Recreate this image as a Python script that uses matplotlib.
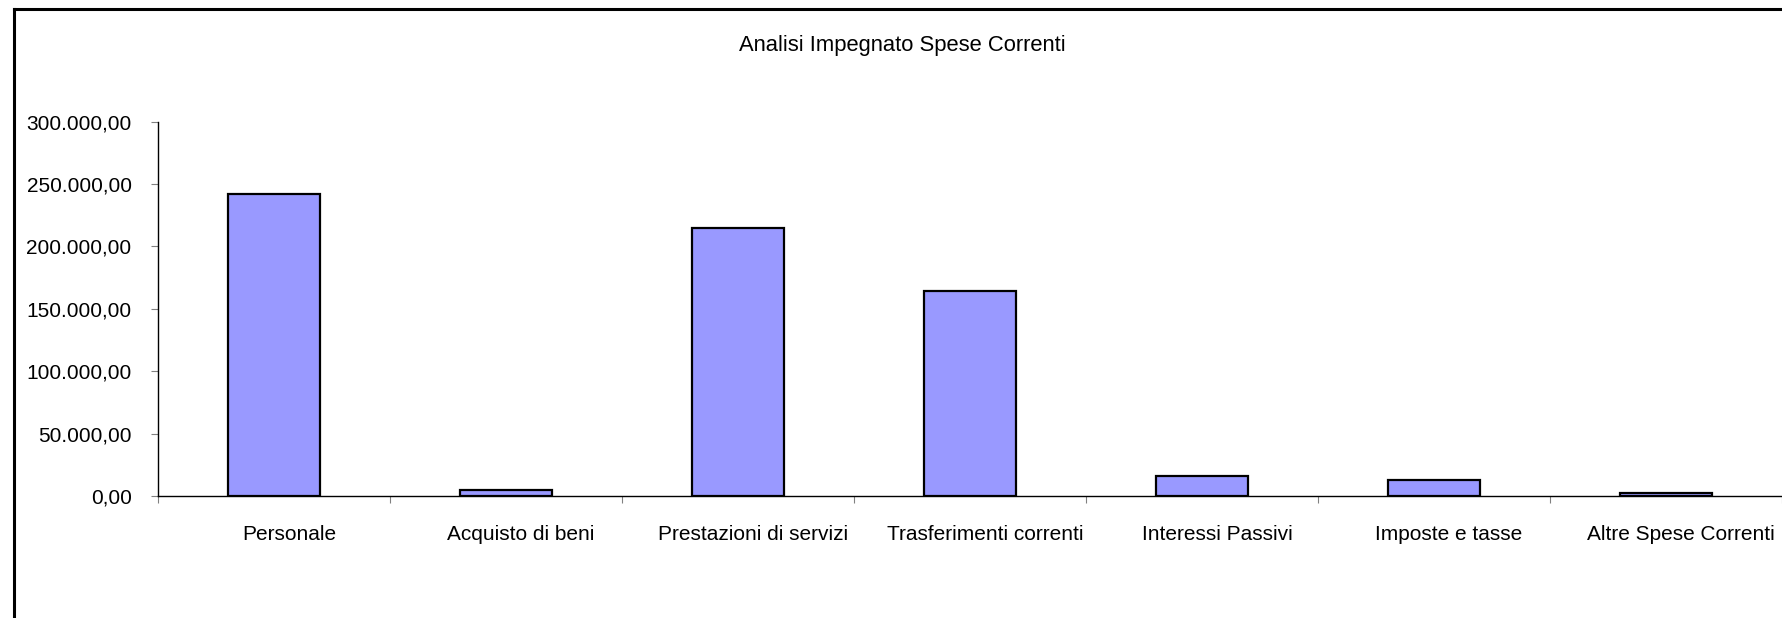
import matplotlib
matplotlib.use("Agg")
import matplotlib.pyplot as plt
import matplotlib.transforms as mtransforms
from matplotlib.ticker import FuncFormatter, FixedLocator
from matplotlib.lines import Line2D

# data
categories = ["Personale", "Acquisto di beni", "Prestazioni di servizi",
              "Trasferimenti correnti", "Interessi Passivi", "Imposte e tasse",
              "Altre Spese Correnti"]
impegnato = [241800, 4500, 214500, 164300, 16300, 12800, 2600]
y_ticks = [0, 50000, 100000, 150000, 200000, 250000, 300000]
title = "Analisi Impegnato Spese Correnti"


# italian number format: 250.000,00
def it_format(v, pos):
    s = "{:,.2f}".format(v)
    return s.replace(",", "X").replace(".", ",").replace("X", ".")


plt.rcParams['font.family'] = ['Liberation Sans', 'DejaVu Sans']

W, H = 1782, 618
fig = plt.figure(figsize=(W / 100, H / 100), dpi=100)
fig.patch.set_facecolor("white")

ax = fig.add_axes([158 / W, 1 - 496 / H, (W - 158) / W, (496 - 121.7) / H])

x = list(range(len(categories)))
ax.bar(x, impegnato, width=0.4, color="#9999FF", edgecolor="black", linewidth=1.6)

ax.set_xlim(-0.5, len(categories) - 0.5)
ax.set_ylim(0, 300000)
ax.set_yticks(y_ticks)
ax.yaxis.set_major_formatter(FuncFormatter(it_format))

ax.set_xticks(x)
ax.set_xticklabels(categories)
ax.xaxis.set_minor_locator(FixedLocator([i - 0.5 for i in range(len(categories) + 1)]))
ax.tick_params(axis="x", which="major", length=0, pad=21, labelsize=15)
ax.tick_params(axis="x", which="minor", length=5, width=0.8, color="#808080", direction="out")
ax.tick_params(axis="y", length=5, width=0.8, color="#808080", direction="out", pad=14, labelsize=15)

# category labels sit a little right of the bar centres, as in the original
shift = mtransforms.ScaledTranslation(0.15, 0, fig.dpi_scale_trans)
for lbl in ax.get_xticklabels():
    lbl.set_transform(lbl.get_transform() + shift)

for side in ["top", "right"]:
    ax.spines[side].set_visible(False)
for side in ["left", "bottom"]:
    ax.spines[side].set_linewidth(1.0)
    ax.spines[side].set_color("black")

fig.text(902 / W, 1 - 46 / H, title, ha="center", va="center", fontsize=15.8)

# outer chart border (only top and left edges are visible in the crop)
fig.add_artist(Line2D([14 / W, 14 / W], [0, 1 - 9 / H], color="black", linewidth=2.2,
                      transform=fig.transFigure))
fig.add_artist(Line2D([14 / W, 1], [1 - 9 / H, 1 - 9 / H], color="black", linewidth=2.2,
                      transform=fig.transFigure))

fig.savefig("out.png", dpi=100, facecolor="white")
